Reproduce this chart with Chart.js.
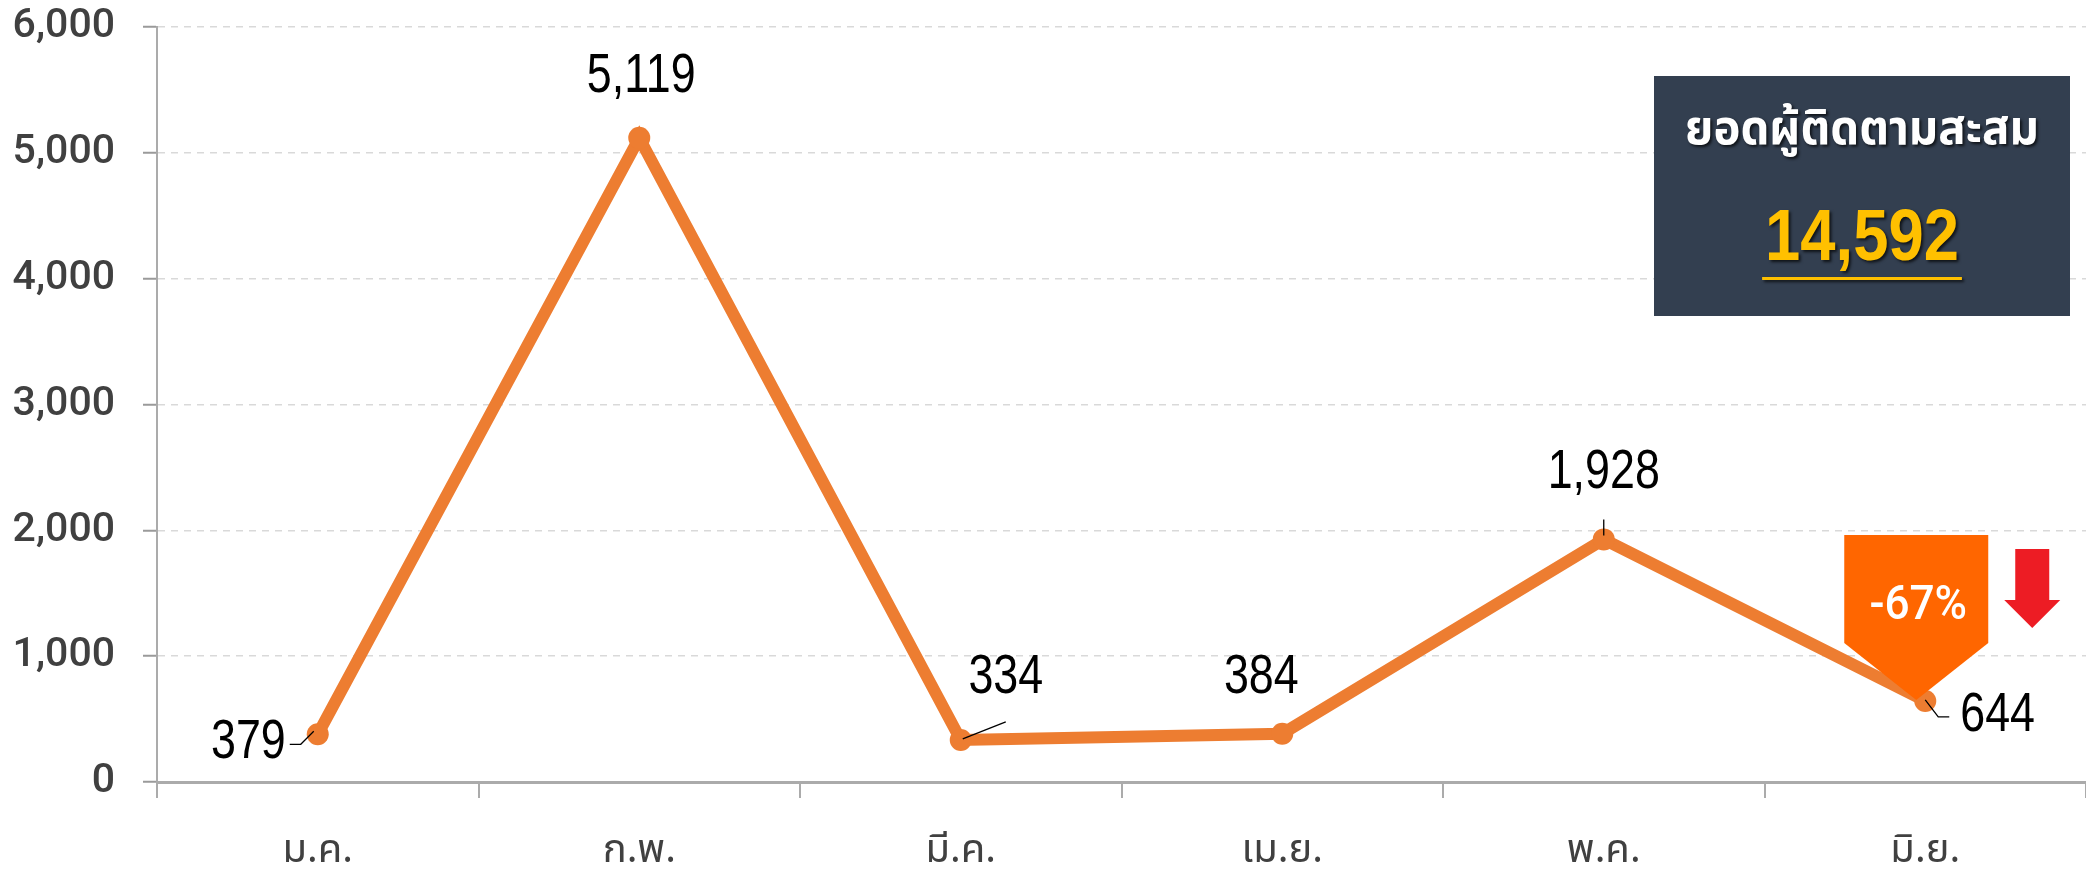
<!DOCTYPE html>
<html>
<head>
<meta charset="utf-8">
<script src="https://cdn.jsdelivr.net/npm/chart.js@4.4.1/dist/chart.umd.min.js"></script>
<style>
  html, body { margin: 0; padding: 0; background: #ffffff; overflow: hidden; }
  #wrap { position: relative; width: 2086px; height: 874px; }
  #wrap canvas { display: block; }
</style>
</head>
<body>
<div id="wrap"><canvas id="chartFollowers"></canvas></div>
<script>
// data
const months = ["ม.ค.", "ก.พ.", "มี.ค.", "เม.ย.", "พ.ค.", "มิ.ย."];
const followers = [379, 5119, 334, 384, 1928, 644];
const yTicks = [0, 1000, 2000, 3000, 4000, 5000, 6000];
const totalTitle = "ยอดผู้ติดตามสะสม";
const totalValue = 14592;
const changeText = "-67%";

// where each value label sits, relative to its point (px)
const labelPos = [
  { dx: -32, dy: 8, align: "right", lead: [[-28, 10], [-17, 10], [-4, -3]] },
  { dx: 2, dy: -61, align: "center", lead: null },
  { dx: 45, dy: -62, align: "center", lead: [[2, -1], [45, -18]] },
  { dx: -21, dy: -56, align: "center", lead: null },
  { dx: 0, dy: -67, align: "center", lead: [[0, -20], [0, -4]] },
  { dx: 35, dy: 15, align: "left", lead: [[0, -1], [13, 16], [24, 16]] }
];

const THAI = "'Noto Sans Thai', 'Noto Sans', 'DejaVu Sans', sans-serif";

let chartFollowers = null;

document.addEventListener("DOMContentLoaded", function () {
  init();
});

function init() {
  const canvas = document.getElementById("chartFollowers");
  const ctx = canvas.getContext("2d");

  chartFollowers = new Chart(ctx, {
    type: "line",
    data: {
      labels: months,
      datasets: [
        {
          label: "ผู้ติดตาม",
          data: followers,
          borderColor: "#ED7D31",
          backgroundColor: "#ED7D31",
          borderWidth: 12,
          pointRadius: 11,
          pointBackgroundColor: "#ED7D31",
          pointBorderWidth: 0,
          tension: 0,
          fill: false
        }
      ]
    },
    options: {
      responsive: true,
      maintainAspectRatio: false,
      devicePixelRatio: 1,
      animation: false,
      layout: {
        autoPadding: false,
        padding: { top: 27, right: 0, left: 0, bottom: 0 }
      },
      plugins: {
        legend: { display: false },
        title: { display: false },
        tooltip: { enabled: false }
      },
      scales: {
        x: {
          offset: true,
          afterFit: function (scale) {
            scale.height = 92;
            scale.paddingLeft = 0;
            scale.paddingRight = 0;
          },
          grid: {
            display: true,
            offset: true,
            drawOnChartArea: false,
            drawTicks: true,
            tickLength: 16,
            color: "#ababab",
            lineWidth: 2
          },
          border: { display: true, color: "#ababab", width: 3 },
          ticks: {
            color: "#404040",
            padding: 32,
            font: { family: THAI, size: 40 }
          }
        },
        y: {
          min: 0,
          max: 6000,
          afterFit: function (scale) {
            scale.width = 157;
            scale.paddingTop = 0;
            scale.paddingBottom = 0;
          },
          afterBuildTicks: function (scale) {
            scale.ticks = yTicks.map(function (v) {
              return { value: v };
            });
          },
          grid: {
            color: "#d9d9d9",
            lineWidth: 1.5,
            tickLength: 14,
            tickColor: "#9a9a9a",
            tickWidth: 2,
            tickBorderDash: []
          },
          border: { display: true, color: "#ababab", width: 2, dash: [7, 6] },
          ticks: {
            color: "#404040",
            padding: 28,
            font: { family: "Roboto, sans-serif", size: 41, weight: "500" },
            callback: function (v) {
              return v.toLocaleString("en-US");
            }
          }
        }
      }
    },
    plugins: [decoPlugin]
  });
}

const decoPlugin = {
  id: "deco",
  afterDatasetsDraw: function (chart) {
    const ctx = chart.ctx;
    const pts = chart.getDatasetMeta(0).data;
    const last = pts[pts.length - 1];

    ctx.save();
    drawCallout(ctx, last.x - 9, last.y - 1);
    drawArrow(ctx, last.x + 107, last.y - 152);
    drawLabels(ctx, pts);
    drawTotalBox(ctx, chart);
    ctx.restore();
  }
};

// condensed text: squeeze horizontally around the anchor
function narrowText(ctx, text, x, y, sx) {
  ctx.save();
  ctx.translate(x, y);
  ctx.scale(sx, 1);
  ctx.fillText(text, 0, 0);
  ctx.restore();
}

function drawLabels(ctx, pts) {
  for (let i = 0; i < pts.length; i++) {
    const p = pts[i];
    const pos = labelPos[i];

    if (pos.lead) {
      ctx.beginPath();
      ctx.strokeStyle = "#000000";
      ctx.lineWidth = 1.3;
      for (let k = 0; k < pos.lead.length; k++) {
        const lx = p.x + pos.lead[k][0];
        const ly = p.y + pos.lead[k][1];
        if (k === 0) ctx.moveTo(lx, ly);
        else ctx.lineTo(lx, ly);
      }
      ctx.stroke();
    }

    ctx.fillStyle = "#000000";
    ctx.font = "56px 'Liberation Sans', Arial, sans-serif";
    ctx.textAlign = pos.align;
    ctx.textBaseline = "middle";
    narrowText(ctx, followers[i].toLocaleString("en-US"), p.x + pos.dx, p.y + pos.dy, 0.8);
  }
}

// orange pentagon pointing at the last point
function drawCallout(ctx, tipX, tipY) {
  const w = 144;
  const h = 165;
  const rectH = 108;
  const left = tipX - w / 2;
  const top = tipY - h;

  ctx.beginPath();
  ctx.moveTo(left, top);
  ctx.lineTo(left + w, top);
  ctx.lineTo(left + w, top + rectH);
  ctx.lineTo(tipX, tipY);
  ctx.lineTo(left, top + rectH);
  ctx.closePath();
  ctx.fillStyle = "#FF6600";
  ctx.fill();

  ctx.fillStyle = "#ffffff";
  ctx.font = "500 48px Roboto, sans-serif";
  ctx.textAlign = "center";
  ctx.textBaseline = "middle";
  narrowText(ctx, changeText, tipX + 2, top + 72, 0.92);
}

// red down arrow, cx = centre, top = top of shaft
function drawArrow(ctx, cx, top) {
  ctx.beginPath();
  ctx.moveTo(cx - 17, top);
  ctx.lineTo(cx + 17, top);
  ctx.lineTo(cx + 17, top + 51);
  ctx.lineTo(cx + 28, top + 51);
  ctx.lineTo(cx, top + 79);
  ctx.lineTo(cx - 28, top + 51);
  ctx.lineTo(cx - 17, top + 51);
  ctx.closePath();
  ctx.fillStyle = "#ED1C24";
  ctx.fill();
}

function drawTotalBox(ctx, chart) {
  const w = 416;
  const h = 240;
  const x = chart.chartArea.right - 16 - w;
  const y = 76;
  const cx = x + w / 2;

  ctx.fillStyle = "#333F50";
  ctx.fillRect(x, y, w, h);

  ctx.shadowColor = "rgba(0,0,0,0.7)";
  ctx.shadowOffsetX = 2;
  ctx.shadowOffsetY = 2;
  ctx.shadowBlur = 3;

  ctx.fillStyle = "#ffffff";
  ctx.font = "bold 48px " + THAI;
  ctx.textAlign = "center";
  ctx.textBaseline = "middle";
  narrowText(ctx, totalTitle, cx, y + 58, 0.95);

  const num = totalValue.toLocaleString("en-US");
  ctx.fillStyle = "#FFC000";
  ctx.font = "bold 72px 'Liberation Sans', Arial, sans-serif";
  narrowText(ctx, num, cx, y + 164, 0.88);

  const tw = ctx.measureText(num).width * 0.88;
  ctx.fillRect(cx - tw / 2 - 3, y + 201, tw + 6, 3);
}
</script>
</body>
</html>
